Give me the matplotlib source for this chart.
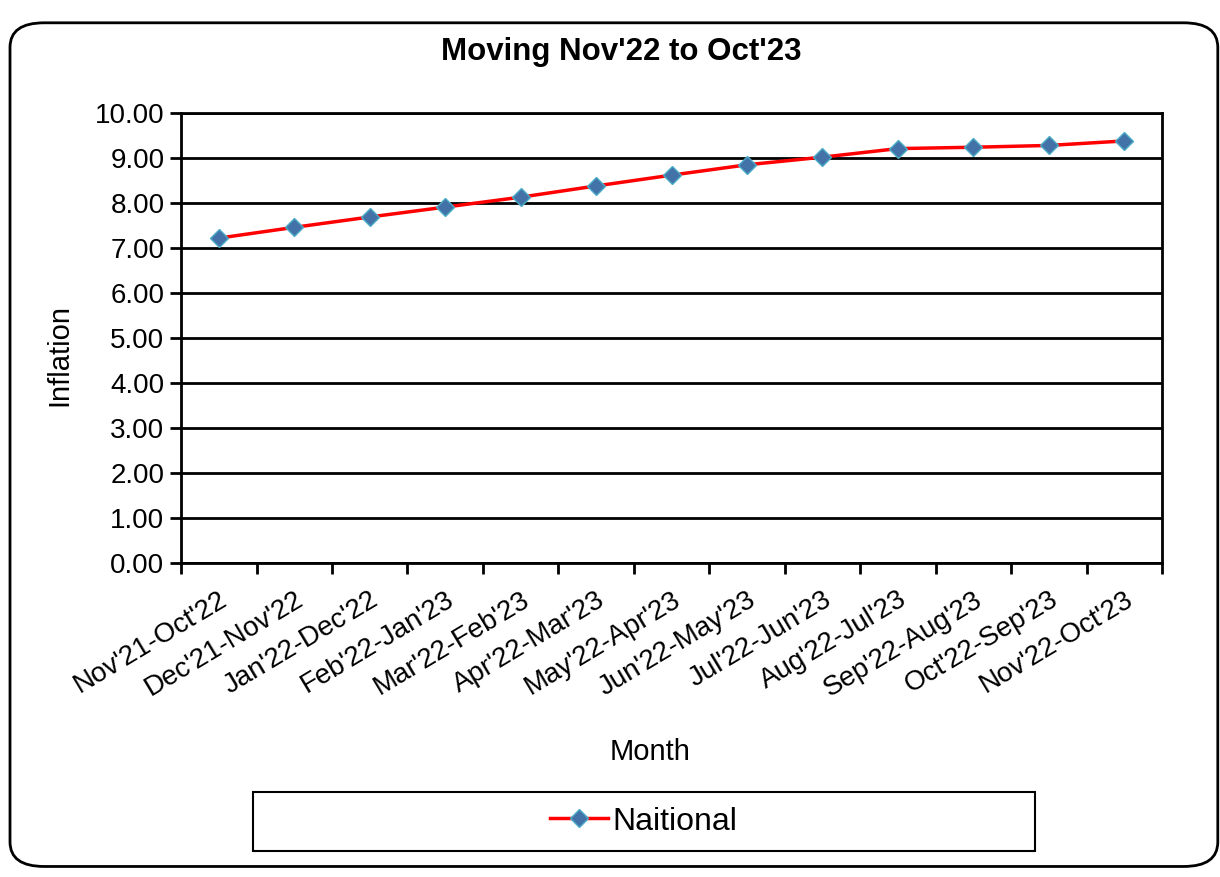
import matplotlib.pyplot as plt
import numpy as np
from matplotlib.patches import FancyBboxPatch, Rectangle

plt.rcParams['font.family'] = ['Liberation Sans', 'DejaVu Sans']

# data
periods = ["Nov'21-Oct'22", "Dec'21-Nov'22", "Jan'22-Dec'22", "Feb'22-Jan'23",
           "Mar'22-Feb'23", "Apr'22-Mar'23", "May'22-Apr'23", "Jun'22-May'23",
           "Jul'22-Jun'23", "Aug'22-Jul'23", "Sep'22-Aug'23", "Oct'22-Sep'23",
           "Nov'22-Oct'23"]
inflation = [7.22, 7.46, 7.69, 7.91, 8.13, 8.38, 8.62, 8.85, 9.02, 9.21, 9.24, 9.28, 9.38]
y_ticks = [0, 1, 2, 3, 4, 5, 6, 7, 8, 9, 10]

fig = plt.figure(figsize=(12.2, 8.77), dpi=100)

# rounded chart-area border
border = FancyBboxPatch((0.0082 + 0.02, 0.004 + 0.028), 0.99 - 0.04, 0.978 - 0.056,
                        boxstyle='round,pad=0.02,rounding_size=0.028',
                        transform=fig.transFigure, facecolor='none',
                        edgecolor='black', linewidth=2, zorder=0)
fig.patches.append(border)

ax = fig.add_axes([0.1484, 0.358, 0.8041, 0.5131])
ax.patch.set_alpha(0)
x = np.arange(len(periods))
ax.plot(x, inflation, color='red', linewidth=2.5, marker='D', markersize=9,
        markerfacecolor='#4372A8', markeredgecolor='#4BACC6', markeredgewidth=1,
        label='Naitional', zorder=3)

ax.set_xlim(-0.5, len(periods) - 0.5)
ax.set_ylim(0, 10)
ax.set_yticks(y_ticks)
ax.set_yticklabels([f'{v:.2f}' for v in y_ticks], fontsize=20)
ax.grid(axis='y', color='black', linewidth=2)
ax.set_axisbelow(True)

ax.set_xticks(x)
ax.set_xticklabels(periods, rotation=31, ha='right', rotation_mode='anchor', fontsize=20)
ax.set_xticks(np.arange(-0.5, len(periods), 1), minor=True)
ax.tick_params(axis='x', which='major', length=0, pad=17)
ax.tick_params(axis='x', which='minor', length=8, width=2, direction='out')
ax.tick_params(axis='y', length=8, width=2, direction='out', pad=4)
for s in ax.spines.values():
    s.set_linewidth(2)
    s.set_color('black')

fig.text(0.509, 0.9407, "Moving Nov'22 to Oct'23", ha='center', va='center',
         fontsize=22.5, fontweight='bold')
fig.text(0.533, 0.1425, 'Month', ha='center', va='center', fontsize=21)
fig.text(0.049, 0.595, 'Inflation', ha='center', va='center', rotation=90, fontsize=21)

# legend box
fig.patches.append(Rectangle((0.2074, 0.0296), 0.641, 0.0673, transform=fig.transFigure,
                             facecolor='none', edgecolor='black', linewidth=1.5, zorder=1))
handles, labels = ax.get_legend_handles_labels()
fig.legend(handles, labels, loc='center', bbox_to_anchor=(0.2074 + 0.641 / 2, 0.0296 + 0.0673 / 2),
           frameon=False, fontsize=23, handlelength=1.8, handletextpad=0.15)

fig.savefig('out.png', dpi=100)
